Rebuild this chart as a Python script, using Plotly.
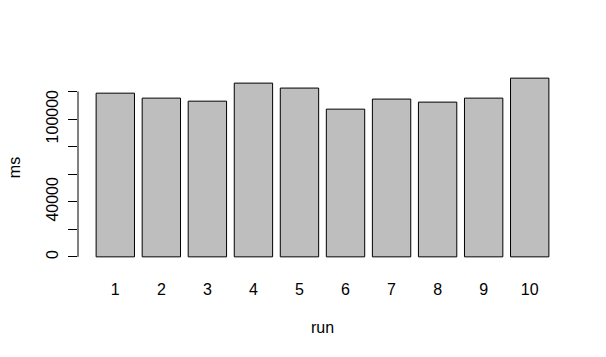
import plotly.graph_objects as go

runs = [str(i) for i in range(1, 11)]
ms = [118800, 115200, 113000, 126100, 122500, 107200, 114500, 112300, 115200, 129700]
ytick_vals = [0, 20000, 40000, 60000, 80000, 100000, 120000]
ytick_text = ["0", "", "40000", "", "", "100000", ""]

# R barplot layout: width 1, space 0.2
centers = [0.7 + 1.2 * i for i in range(len(runs))]
xmin, xmax = 0.2, 1.2 * len(runs)
xpad = 0.04 * (xmax - xmin)
ymax = max(ms)
ypad = 0.04 * ymax

font = dict(family="Liberation Sans, Arial, sans-serif", size=16, color="black")

fig = go.Figure(go.Bar(
    x=centers, y=ms, width=1.0,
    marker=dict(color="#BEBEBE", line=dict(color="black", width=1)),
    hoverinfo="skip",
))

fig.update_layout(
    width=606, height=357,
    margin=dict(l=78, r=39, t=71, b=93),
    paper_bgcolor="white", plot_bgcolor="white",
    showlegend=False,
    font=font,
    xaxis=dict(
        range=[xmin - xpad, xmax + xpad],
        tickvals=centers, ticktext=runs,
        showgrid=False, zeroline=False, showline=False,
        ticks="", ticklabelstandoff=14,
        title=dict(text="run", standoff=24, font=font),
    ),
    yaxis=dict(
        range=[-ypad, ymax + ypad],
        tickvals=ytick_vals, ticktext=ytick_text,
        tickangle=-90,
        showgrid=False, zeroline=False, showline=False,
        ticks="outside", ticklen=9, tickwidth=1, tickcolor="black",
        ticklabelstandoff=4,
        title=dict(text="ms", standoff=18, font=font),
    ),
    shapes=[dict(type="line", xref="paper", yref="y",
                 x0=0, x1=0, y0=ytick_vals[0], y1=ytick_vals[-1],
                 line=dict(color="black", width=1))],
)

fig.write_html("out.html")
